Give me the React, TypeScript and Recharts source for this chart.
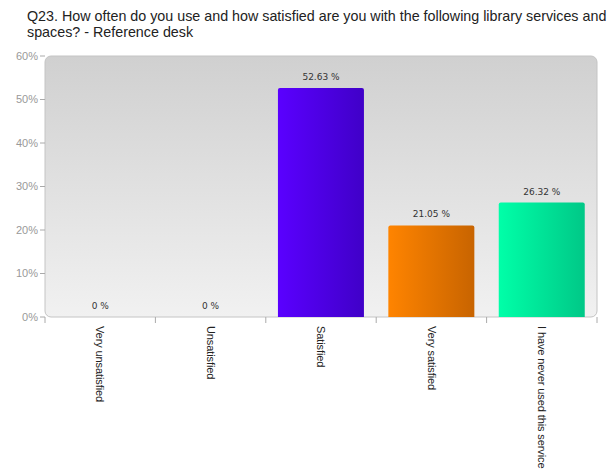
import { ComposedChart, Bar, Line, XAxis, YAxis, CartesianGrid, Cell, LabelList, ReferenceArea } from 'recharts';

const categories = ['Very unsatisfied', 'Unsatisfied', 'Satisfied', 'Very satisfied', 'I have never used this service'];
const percents = [0, 0, 52.63, 21.05, 26.32];
const yTicks = [0, 10, 20, 30, 40, 50, 60];
const barGradients = [
  ['#5a00ff', '#4000c8'],
  ['#5a00ff', '#4000c8'],
  ['#5a00ff', '#4000c8'],
  ['#ff8400', '#c86400'],
  ['#00ffa8', '#00c887'],
];

const data = categories.map((name, i) => ({ name, value: percents[i] }));

const CHART_W = 611;
const CHART_H = 470;
const MARGIN = { top: 56, right: 14, left: 0, bottom: 0 };
const Y_WIDTH = 45;
const X_HEIGHT = 153;
const BAND = (CHART_W - Y_WIDTH - MARGIN.right) / categories.length;
const FONT = "'Liberation Sans', Arial, sans-serif";

const BgShape = (props: any) => {
  const { x, y, width, height } = props;
  return (
    <rect x={x} y={y} width={width} height={height} rx={6} ry={6} fill="url(#bgGrad)" stroke="#c4c4c4" strokeWidth={1} />
  );
};

const XTick = (props: any) => {
  const { x, y, payload, index } = props;
  const left = x - BAND / 2;
  return (
    <g>
      <line x1={left} y1={y - 8} x2={left} y2={y - 2} stroke="#aaa" />
      {index === categories.length - 1 && (
        <line x1={x + BAND / 2} y1={y - 8} x2={x + BAND / 2} y2={y - 2} stroke="#aaa" />
      )}
      <text
        x={x}
        y={y + 1}
        transform={`rotate(90, ${x}, ${y + 1})`}
        textAnchor="start"
        dy="0.35em"
        fontSize={11}
        fill="#222"
        fontFamily={FONT}
        letterSpacing={-0.1}
      >
        {payload.value}
      </text>
    </g>
  );
};

export default function App() {
  return (
    <div style={{ position: 'absolute', left: 0, top: 0, width: CHART_W, height: CHART_H, background: '#fff', overflow: 'hidden' }}>
      <div
        style={{
          position: 'absolute',
          left: 27,
          top: 8,
          fontFamily: FONT,
          fontSize: 14.3,
          lineHeight: '16px',
          color: '#222',
          whiteSpace: 'nowrap',
        }}
      >
        Q23. How often do you use and how satisfied are you with the following library services and
        <br />
        spaces? - Reference desk
      </div>
      <ComposedChart width={CHART_W} height={CHART_H} data={data} margin={MARGIN} barCategoryGap="11%">
        <defs>
          <linearGradient id="bgGrad" x1="0" y1="0" x2="0" y2="1">
            <stop offset="0%" stopColor="#d0d0d0" />
            <stop offset="100%" stopColor="#f1f1f1" />
          </linearGradient>
          {barGradients.map((g, i) => (
            <linearGradient key={i} id={`barGrad${i}`} x1="0" y1="0" x2="1" y2="0">
              <stop offset="0%" stopColor={g[0]} />
              <stop offset="100%" stopColor={g[1]} />
            </linearGradient>
          ))}
        </defs>
        <ReferenceArea y1={0} y2={60} shape={<BgShape />} ifOverflow="visible" />
        <CartesianGrid vertical={false} stroke="#ffffff" strokeWidth={1.2} />
        <XAxis
          dataKey="name"
          axisLine={false}
          tickLine={false}
          interval={0}
          height={X_HEIGHT}
          tick={<XTick />}
        />
        <YAxis
          domain={[0, 60]}
          ticks={yTicks}
          width={Y_WIDTH}
          axisLine={false}
          tickLine={{ stroke: '#aaa' }}
          tickSize={5}
          tickFormatter={(v) => `${v}%`}
          tick={{ fontSize: 11, fill: '#999', fontFamily: FONT }}
        />
        <Bar dataKey="value" isAnimationActive={false} radius={[2, 2, 0, 0]}>
          {data.map((_, i) => (
            <Cell key={i} fill={`url(#barGrad${i})`} />
          ))}
        </Bar>
        <Line dataKey="value" stroke="none" dot={false} activeDot={false} isAnimationActive={false}>
          <LabelList
            dataKey="value"
            position="top"
            offset={8}
            formatter={(v: any) => `${v} %`}
            style={{ fontSize: 9, fill: '#333', fontFamily: "'DejaVu Sans', sans-serif" }}
          />
        </Line>
      </ComposedChart>
    </div>
  );
}
